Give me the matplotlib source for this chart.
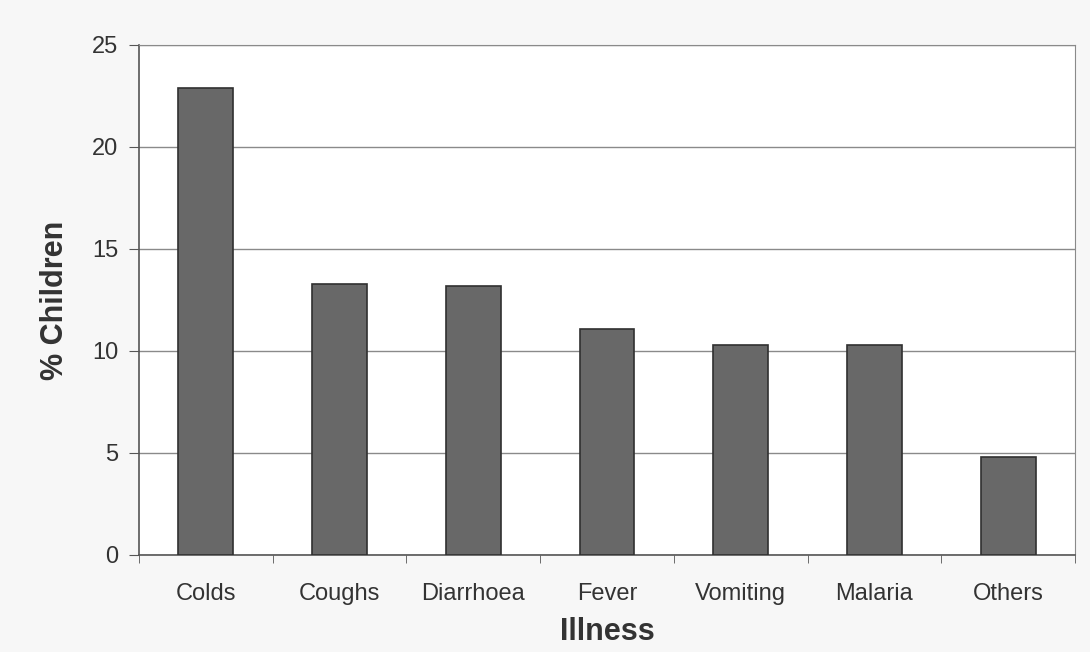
import matplotlib.pyplot as plt
import numpy as np

illness = ['Colds', 'Coughs', 'Diarrhoea', 'Fever', 'Vomiting', 'Malaria', 'Others']
pct_children = [22.9, 13.3, 13.2, 11.1, 10.3, 10.3, 4.8]

plt.rcParams['font.family'] = ['Liberation Sans', 'DejaVu Sans']

fig = plt.figure(figsize=(10.9, 6.52), dpi=100)
fig.patch.set_facecolor('#f7f7f7')
ax = fig.add_axes([0.1275, 0.1488, 0.8587, 0.7822])
ax.set_facecolor('white')

x = np.arange(len(illness))
ax.bar(x, pct_children, width=0.41, color='#686868', edgecolor='#303030', linewidth=1.2, zorder=3)

ax.set_xlim(-0.5, len(illness) - 0.5)
ax.set_ylim(0, 25)
ax.set_yticks([0, 5, 10, 15, 20, 25])
ax.yaxis.grid(True, color='#8a8a8a', linewidth=1)
ax.set_axisbelow(True)

ax.set_xticks(x)
ax.set_xticklabels(illness, fontsize=17, color='#333333')
ax.set_xticks(np.arange(-0.5, len(illness)), minor=True)
ax.tick_params(axis='x', which='major', length=0, pad=20)
ax.tick_params(axis='x', which='minor', length=6, color='#555555', direction='out')
ax.tick_params(axis='y', labelsize=17, labelcolor='#333333', length=7, color='#555555', pad=8)

for s in ['left', 'bottom']:
    ax.spines[s].set_color('#555555')
    ax.spines[s].set_linewidth(1.2)
for s in ['top', 'right']:
    ax.spines[s].set_color('#8a8a8a')

ax.set_xlabel('Illness', fontsize=22, fontweight='bold', color='#333333', labelpad=9)
ax.set_ylabel('% Children', fontsize=22, fontweight='bold', color='#333333', labelpad=16)

plt.savefig('out.png', dpi=100, facecolor=fig.get_facecolor())
